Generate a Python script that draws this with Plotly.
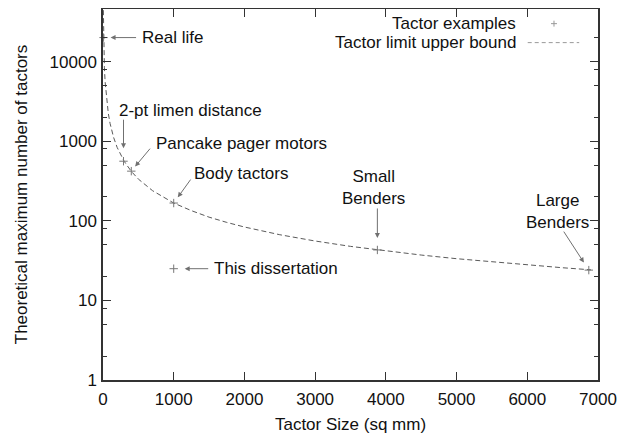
import numpy as np
import plotly.graph_objects as go

# ---- data ----
example_names = ["Real life", "2-pt limen distance", "Pancake pager motors",
                 "Body tactors", "Small Benders", "Large Benders", "This dissertation"]
example_size = [8, 290, 400, 1000, 3880, 6870, 1000]          # sq mm
example_count = [20000, 560, 420, 167, 43, 24, 25]            # tactors

bound_size = [3, 5, 10, 20, 30, 50, 75, 100, 150, 200, 300, 400, 500, 700,
              1000, 1250, 1500, 1750, 2000, 2500, 3000, 3500, 4000, 4500,
              5000, 5500, 6000, 6500, 6900]
bound_count = [55700, 33400, 16700, 8350, 5570, 3340, 2230, 1670, 1113, 835,
               557, 418, 334, 239, 167, 134, 111, 95.4, 83.5, 66.8, 55.7,
               47.7, 41.8, 37.1, 33.4, 30.4, 27.8, 25.7, 24.2]

x_ticks = [0, 1000, 2000, 3000, 4000, 5000, 6000, 7000]
y_ticks = [1, 10, 100, 1000, 10000]
y_minor = [m * 10 ** d for d in range(0, 5) for m in (2, 5, 8)]

FONT = "Liberation Sans, Arial, Helvetica, sans-serif"
FS = 17
GRAY = "#707070"
AXC = "#333333"

fig = go.Figure()

fig.add_trace(go.Scatter(
    x=bound_size, y=bound_count, mode="lines",
    line=dict(color="#5a5a5a", width=1, dash="5px,3px"),
    showlegend=False, hoverinfo="skip"))

fig.add_trace(go.Scatter(
    x=example_size, y=example_count, mode="markers",
    marker=dict(symbol="cross-thin-open", size=6, color="#777777",
                line=dict(color="#777777", width=1)),
    cliponaxis=False, showlegend=False))

# ---- labels with arrows (offsets in pixels) ----
# name: (arrow ax, ay, standoff, text xshift, yshift, xanchor, text)
label_layout = {
    "Real life": (34, 0, 7, 36, 0, "left", "Real life"),
    "2-pt limen distance": (0, -43, 13, -7, 51, "left", "2-pt limen distance"),
    "Pancake pager motors": (20, -24, 6, 23, 28, "left", "Pancake pager motors"),
    "Body tactors": (18, -25, 7, 18, 30, "left", "Body tactors"),
    "Small Benders": (0, -43, 12, -4, 62, "center", "Small<br>Benders"),
    "Large Benders": (-26, -40, 9, -31, 59, "center", "Large<br>Benders"),
    "This dissertation": (36, 0, 11, 38, 0, "left", "This dissertation"),
}
for name, sx, sy in zip(example_names, example_size, example_count):
    ax, ay, so, xs, ys, xa, txt = label_layout[name]
    ly = np.log10(sy)
    fig.add_annotation(x=sx, y=ly, xref="x", yref="y", text="",
                       showarrow=True, ax=ax, ay=ay, standoff=so,
                       arrowhead=2, arrowsize=1, arrowwidth=1, arrowcolor=GRAY)
    fig.add_annotation(x=sx, y=ly, xref="x", yref="y", text=txt,
                       showarrow=False, xshift=xs, yshift=ys, xanchor=xa,
                       yanchor="middle", align="center",
                       font=dict(family=FONT, size=FS, color="#111111"))

# ---- manual gnuplot-style key (text left, sample right) ----
key_text = ["Tactor examples", "Tactor limit upper bound"]
key_y = [0.9605, 0.9094]
for t, ky in zip(key_text, key_y):
    fig.add_annotation(x=0.838, y=ky, xref="paper", yref="paper", text=t,
                       showarrow=False, xanchor="right", yanchor="middle",
                       font=dict(family=FONT, size=FS, color="#111111"))
cx, hx, hy = 0.9111, 0.006, 0.008
fig.add_shape(type="line", xref="paper", yref="paper", x0=cx - hx, x1=cx + hx,
              y0=key_y[0], y1=key_y[0], line=dict(color="#999999", width=1))
fig.add_shape(type="line", xref="paper", yref="paper", x0=cx, x1=cx,
              y0=key_y[0] - hy, y1=key_y[0] + hy, line=dict(color="#999999", width=1))
fig.add_shape(type="line", xref="paper", yref="paper", x0=0.858, x1=0.962,
              y0=key_y[1], y1=key_y[1],
              line=dict(color="#999999", width=1, dash="4px,3px"))

# page body has an 8px margin, so the figure is shrunk by 8px
fig.update_layout(
    width=620, height=426,
    margin=dict(l=95, r=30, t=1, b=54, autoexpand=False),
    paper_bgcolor="white", plot_bgcolor="white",
    font=dict(family=FONT, size=FS, color="#111111"),
    showlegend=False,
)
fig.update_xaxes(
    range=[0, 7000], tickvals=x_ticks, ticktext=[str(v) for v in x_ticks],
    ticks="inside", ticklen=8, tickwidth=1, tickcolor=AXC,
    showline=True, linecolor=AXC, linewidth=1.5, mirror="ticks",
    showgrid=False, zeroline=False, ticklabelstandoff=3,
    title=dict(text="Tactor Size (sq mm)", standoff=10,
               font=dict(family=FONT, size=FS)),
    tickfont=dict(family=FONT, size=FS),
)
fig.update_yaxes(
    type="log", range=[0, 4.66], tickvals=y_ticks,
    ticktext=[str(v) for v in y_ticks],
    ticks="inside", ticklen=8, tickwidth=1, tickcolor=AXC,
    minor=dict(tickvals=y_minor, ticks="inside", ticklen=4, tickcolor=AXC,
               tickwidth=1, showgrid=False),
    showline=True, linecolor=AXC, linewidth=1.5, mirror="ticks",
    showgrid=False, zeroline=False, ticklabelstandoff=1,
    title=dict(text="Theoretical maximum number of tactors", standoff=18,
               font=dict(family=FONT, size=FS)),
    tickfont=dict(family=FONT, size=FS),
)

fig.write_html("out.html")
